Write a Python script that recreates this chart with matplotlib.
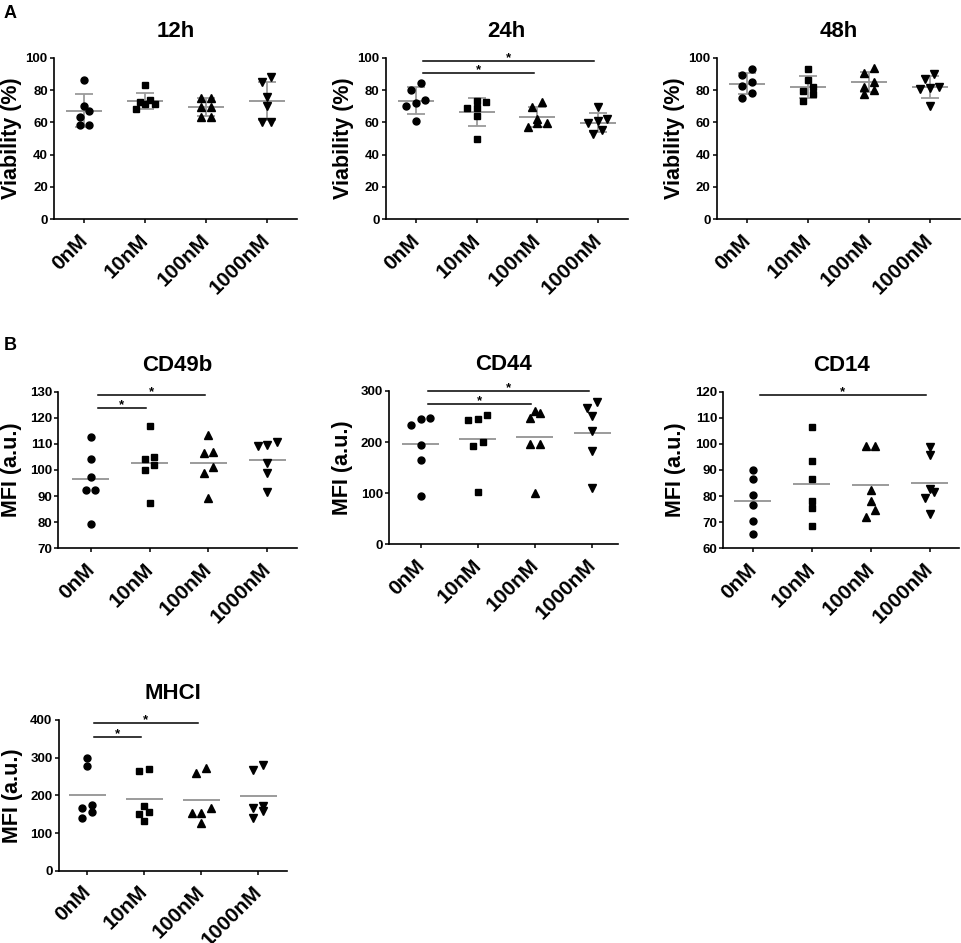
import numpy as np
import matplotlib
matplotlib.use('Agg')
import matplotlib.pyplot as plt
import matplotlib.transforms as mtransforms

plt.rcParams['font.family'] = ['Liberation Sans', 'DejaVu Sans']
plt.rcParams['font.weight'] = 'bold'

# ---------------- data ----------------
doses = ['0nM', '10nM', '100nM', '1000nM']
markers = ['o', 's', '^', 'v']

via_12h = [[86.0, 70.1, 66.8, 63.3, 58.4, 58.4],
           [82.9, 73.8, 72.8, 71.3, 71.3, 68.0],
           [75.3, 75.3, 69.7, 69.7, 63.5, 63.5],
           [87.8, 84.7, 75.7, 70.1, 60.4, 60.4]]
via_24h = [[84.3, 80.0, 73.8, 71.8, 70.1, 61.0],
           [73.4, 72.6, 68.7, 68.7, 63.9, 49.9],
           [72.6, 69.7, 62.3, 59.8, 59.4, 56.9],
           [69.3, 61.9, 60.8, 59.4, 55.3, 52.6]]
via_48h = [[93.0, 89.3, 85.2, 82.5, 78.4, 75.3],
           [92.8, 86.4, 81.6, 79.4, 77.5, 73.4],
           [93.6, 90.5, 84.9, 82.1, 80.0, 77.5],
           [90.1, 86.6, 81.6, 81.4, 80.4, 70.1]]
cd49b = [[112.6, 104.1, 97.3, 92.5, 92.5, 79.4],
         [117.0, 105.1, 104.1, 101.9, 100.0, 87.2],
         [113.4, 107.0, 106.6, 101.3, 98.7, 89.1],
         [110.7, 109.6, 109.2, 102.6, 98.7, 91.4]]
cd44 = [[246.5, 244.6, 234.1, 195.0, 165.7, 95.2],
        [252.4, 245.2, 243.3, 200.2, 193.0, 103.0],
        [261.5, 257.0, 247.2, 197.0, 195.7, 100.4],
        [277.8, 266.1, 250.4, 221.7, 183.3, 110.9]]
cd14 = [[90.0, 86.5, 80.5, 76.7, 70.3, 65.4],
        [106.3, 93.3, 86.7, 78.3, 75.3, 68.7],
        [99.2, 99.2, 82.2, 78.1, 74.7, 72.1],
        [98.7, 95.8, 82.7, 81.6, 79.1, 73.1]]
mhci = [[298.2, 277.9, 175.2, 165.5, 154.9, 140.7],
        [269.0, 264.6, 171.7, 156.6, 149.6, 131.0],
        [271.7, 259.3, 165.5, 152.2, 152.2, 127.4],
        [281.4, 267.3, 172.6, 166.4, 158.4, 140.7]]

# significance bars: (group a, group b, height)
sig_24h = [(0, 2, 90.3), (0, 3, 98.1)]
sig_cd49b = [(0, 1, 123.6), (0, 2, 128.6)]
sig_cd44 = [(0, 2, 275.2), (0, 3, 300.0)]
sig_cd14 = [(0, 3, 118.6)]
sig_mhci = [(0, 1, 354.0), (0, 2, 391.0)]

# ---------------- layout ----------------
W, H = 962, 943
fig = plt.figure(figsize=(W / 100, H / 100), dpi=100)

GRAY = '#9b9b9b'

panels = [
    dict(rect=(54, 297, 57.7, 219.3), data=via_12h, title='12h', ylabel='Viability (%)',
         ylim=(0, 100), yticks=range(0, 101, 20), err=True, sig=[], xlim=(-0.5, 3.5), lx=32),
    dict(rect=(385.7, 628, 57.7, 219.3), data=via_24h, title='24h', ylabel='Viability (%)',
         ylim=(0, 100), yticks=range(0, 101, 20), err=True, sig=sig_24h, xlim=(-0.5, 3.5), lx=32),
    dict(rect=(716.7, 960, 57.7, 219.3), data=via_48h, title='48h', ylabel='Viability (%)',
         ylim=(0, 100), yticks=range(0, 101, 20), err=True, sig=[], xlim=(-0.5, 3.5), lx=32),
    dict(rect=(58.3, 296.7, 391.7, 548.3), data=cd49b, title='CD49b', ylabel='MFI (a.u.)',
         ylim=(70, 130), yticks=range(70, 131, 10), err=False, sig=sig_cd49b, xlim=(-0.55, 3.5), lx=36),
    dict(rect=(389.3, 617.7, 391.0, 544.3), data=cd44, title='CD44', ylabel='MFI (a.u.)',
         ylim=(0, 300), yticks=range(0, 301, 100), err=False, sig=sig_cd44, xlim=(-0.55, 3.45), lx=36),
    dict(rect=(723.3, 959, 391.7, 548.3), data=cd14, title='CD14', ylabel='MFI (a.u.)',
         ylim=(60, 120), yticks=range(60, 121, 10), err=False, sig=sig_cd14, xlim=(-0.5, 3.5), lx=37),
    dict(rect=(58.7, 286.7, 720.0, 870.7), data=mhci, title='MHCI', ylabel='MFI (a.u.)',
         ylim=(0, 400), yticks=range(0, 401, 100), err=False, sig=sig_mhci, xlim=(-0.5, 3.5), lx=36),
]

msizes = {'o': 5.0, 's': 4.6, '^': 5.2, 'v': 5.2}


def swarm(vals, ppu_x, ppu_y, row_px=7.0, step_px=9.5):
    vals = np.asarray(vals, float)
    order = np.argsort(vals)
    offs = np.zeros(len(vals))
    rows, cur = [], [order[0]]
    for idx in order[1:]:
        if (vals[idx] - vals[cur[0]]) * ppu_y < row_px:
            cur.append(idx)
        else:
            rows.append(cur)
            cur = [idx]
    rows.append(cur)
    for r in rows:
        n = len(r)
        for k, idx in enumerate(r):
            offs[idx] = (k - (n - 1) / 2) * step_px / ppu_x
    return offs


label_shift = mtransforms.ScaledTranslation(-6 / 100, -3 / 100, fig.dpi_scale_trans)

for p in panels:
    l, r, t, b = p['rect']
    ax = fig.add_axes([l / W, 1 - b / H, (r - l) / W, (b - t) / H])
    ax.set_xlim(*p['xlim'])
    ax.set_ylim(*p['ylim'])
    ppu_x = (r - l) / (p['xlim'][1] - p['xlim'][0])
    ppu_y = (b - t) / (p['ylim'][1] - p['ylim'][0])
    for i, vals in enumerate(p['data']):
        vals = np.asarray(vals, float)
        offs = swarm(vals, ppu_x, ppu_y)
        m = markers[i]
        ax.plot(i + offs, vals, linestyle='none', marker=m, ms=msizes[m],
                color='black', zorder=3, clip_on=False)
        mean = vals.mean()
        if p['err']:
            sd = vals.std(ddof=1)
            half = 18.0 / ppu_x
            ax.hlines(mean, i - half, i + half, color=GRAY, lw=1.4, zorder=2)
            ax.errorbar(i, mean, yerr=sd, color=GRAY, lw=1.3, capsize=6.8,
                        capthick=1.3, zorder=2, fmt='none')
        else:
            half = 18.5 / ppu_x
            ax.hlines(mean, i - half, i + half, color=GRAY, lw=1.4, zorder=2)
    for (a, c, y) in p['sig']:
        x0 = a + 0.12
        x1 = c - 0.06
        ax.plot([x0, x1], [y, y], color='black', lw=1.1, clip_on=False, zorder=4)
        ax.text((x0 + x1) / 2, y, '*', ha='center', va='baseline', fontsize=9.5,
                fontweight='bold', clip_on=False)

    ax.set_yticks(list(p['yticks']))
    ax.set_xticks(range(len(doses)))
    ax.tick_params(axis='both', direction='out', length=3, width=1.1, pad=1.5)
    ax.tick_params(axis='x', pad=3)
    ax.set_xticklabels(doses, rotation=45, ha='right', rotation_mode='anchor',
                       fontsize=15, fontweight='bold')
    for lab in ax.get_yticklabels():
        lab.set_fontsize(9.5)
        lab.set_fontweight('bold')
    for s in ['top', 'right']:
        ax.spines[s].set_visible(False)
    for s in ['left', 'bottom']:
        ax.spines[s].set_linewidth(1.2)
    ax.set_title(p['title'], fontsize=16, fontweight='bold', pad=15)
    ax.set_ylabel(p['ylabel'], fontsize=15.5, fontweight='bold')
    ax.yaxis.set_label_coords(-p['lx'] / (r - l), 0.5)
    for tick in ax.xaxis.get_major_ticks():
        tick.label1.set_transform(tick.label1.get_transform() + label_shift)

fig.text(10 / W, 1 - 13 / H, 'A', fontsize=13, fontweight='bold', ha='center', va='center')
fig.text(10 / W, 1 - 345 / H, 'B', fontsize=13, fontweight='bold', ha='center', va='center')

fig.savefig('out.png', dpi=100)
